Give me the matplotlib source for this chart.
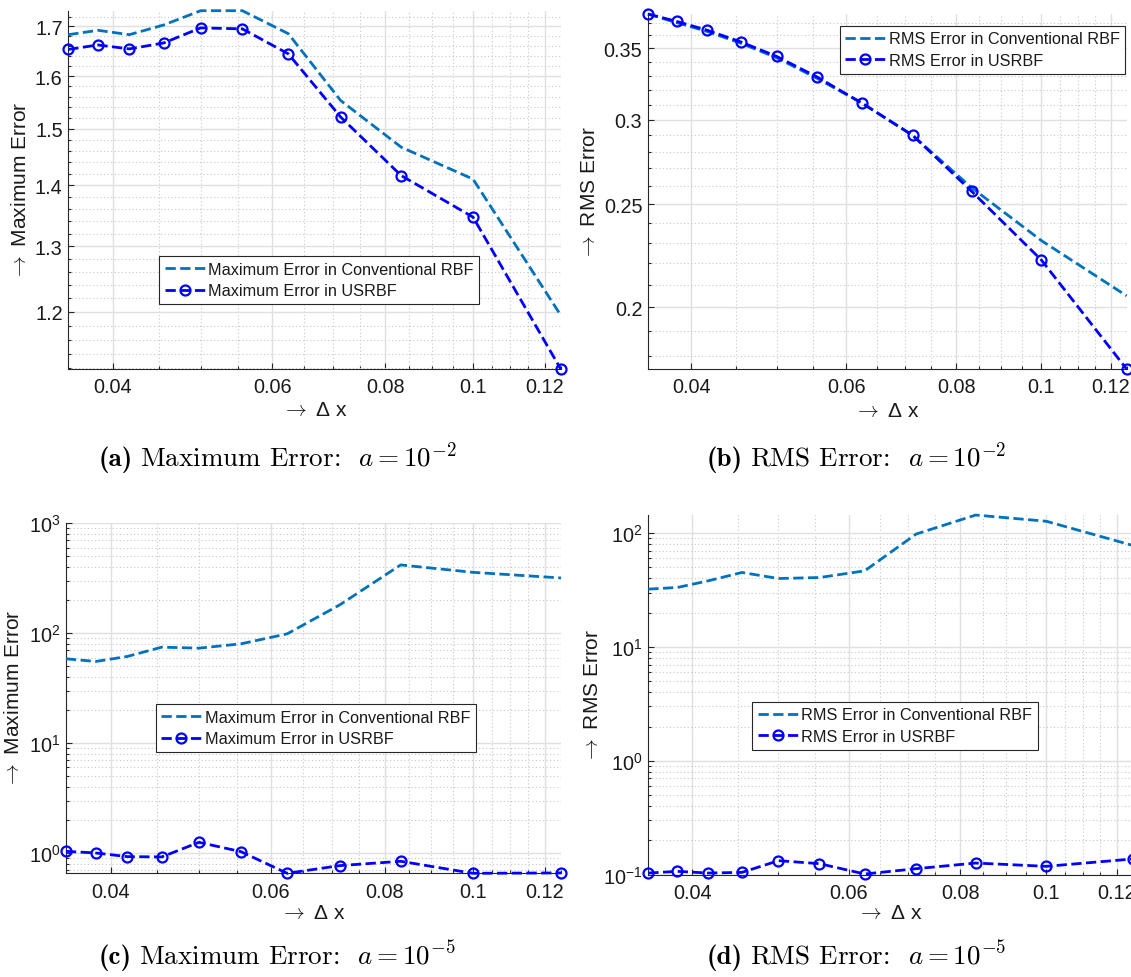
import numpy as np
import matplotlib
matplotlib.use('Agg')
import matplotlib.pyplot as plt
from matplotlib.ticker import (FixedLocator, FixedFormatter, LogLocator,
                               NullFormatter, LogFormatterSciNotation)

plt.rcParams['font.family'] = ['Liberation Sans', 'DejaVu Sans']
plt.rcParams['mathtext.fontset'] = 'cm'

# ---------------- data ----------------
dx = [0.0357, 0.0385, 0.0417, 0.0455, 0.0500, 0.0556, 0.0625, 0.0714, 0.0833, 0.1000, 0.1250]

max_conv_a = [1.683, 1.692, 1.683, 1.703, 1.733, 1.733, 1.685, 1.553, 1.467, 1.411, 1.195]
max_us_a   = [1.653, 1.662, 1.654, 1.666, 1.697, 1.695, 1.644, 1.522, 1.417, 1.347, 1.119]

rms_conv_b = [0.377, 0.370, 0.363, 0.354, 0.343, 0.328, 0.311, 0.290, 0.259, 0.231, 0.205]
rms_us_b   = [0.377, 0.371, 0.364, 0.355, 0.344, 0.329, 0.311, 0.290, 0.257, 0.2215, 0.175]

max_conv_c = [58.5, 55.3, 61.4, 74.6, 73.1, 80.0, 98.6, 181, 418, 358, 318]
max_us_c   = [1.035, 1.0, 0.926, 0.92, 1.25, 1.028, 0.653, 0.767, 0.840, 0.653, 0.658]

rms_conv_d = [32.2, 33.3, 38.1, 45.1, 39.9, 40.7, 46.6, 98, 144, 127, 78]
rms_us_d   = [0.1034, 0.107, 0.1034, 0.1048, 0.1328, 0.125, 0.1014, 0.1129, 0.1266, 0.1184, 0.1374]

xticks = [0.04, 0.06, 0.08, 0.1, 0.12]
xticklabels = ['0.04', '0.06', '0.08', '0.1', '0.12']
yticks_a = [1.2, 1.3, 1.4, 1.5, 1.6, 1.7]
yticklabels_a = ['1.2', '1.3', '1.4', '1.5', '1.6', '1.7']
yticks_b = [0.2, 0.25, 0.3, 0.35]
yticklabels_b = ['0.2', '0.25', '0.3', '0.35']

cap_tags = ['(a)', '(b)', '(c)', '(d)']
cap_texts = [r'Maximum Error:  $a = 10^{-2}$',
             r'RMS Error:  $a = 10^{-2}$',
             r'Maximum Error:  $a = 10^{-5}$',
             r'RMS Error:  $a = 10^{-5}$']

# ---------------- styling ----------------
W, H = 1131, 978
C_CONV = '#0072BD'
C_US = '#0000FF'
AX_COL = '#262626'
TXT = '#1a1a1a'

fig = plt.figure(figsize=(W / 100, H / 100), dpi=100)


def px_axes(l, r, t, b):
    return fig.add_axes([l / W, 1 - b / H, (r - l) / W, (b - t) / H])


def style(ax, xlab_y, ylab_x):
    ax.set_xscale('log')
    ax.set_yscale('log')
    for s in ['top', 'right']:
        ax.spines[s].set_visible(False)
    for s in ['left', 'bottom']:
        ax.spines[s].set_color(AX_COL)
        ax.spines[s].set_linewidth(0.8)
    ax.xaxis.set_major_locator(FixedLocator(xticks))
    ax.xaxis.set_major_formatter(FixedFormatter(xticklabels))
    ax.xaxis.set_minor_locator(FixedLocator(np.round(np.arange(0.035, 0.1251, 0.005), 3)))
    ax.xaxis.set_minor_formatter(NullFormatter())
    ax.tick_params(which='both', direction='in', color=AX_COL, labelcolor=TXT,
                   labelsize=14.3, width=0.8)
    ax.tick_params(which='major', length=4.5)
    ax.tick_params(which='minor', length=2.3)
    ax.tick_params(axis='x', which='both', pad=6)
    ax.tick_params(axis='y', which='both', pad=4)
    ax.set_axisbelow(True)
    ax.grid(True, which='major', color='#e0e0e0', lw=1.0, ls='-')
    ax.grid(True, which='minor', color='#c8c8c8', lw=0.8, ls=(0, (1, 2.2)))
    ax.set_xlim(dx[0], dx[-1])
    ax.xaxis.set_label_coords(0.5, xlab_y)
    ax.xaxis.label.set_va('center')
    ax.yaxis.set_label_coords(ylab_x, 0.5)
    ax.yaxis.label.set_va('center')


def draw(ax, conv, us, lab_conv, lab_us, leg_xy):
    ax.plot(dx, conv, ls='--', color=C_CONV, lw=2.0, label=lab_conv, clip_on=False, zorder=3)
    ax.plot(dx, us, ls='--', color=C_US, lw=2.0, marker='o', ms=7.2, mew=1.6,
            mfc='none', mec=C_US, label=lab_us, clip_on=False, zorder=4)
    leg = ax.legend(loc='upper left', bbox_to_anchor=(leg_xy[0] / W, 1 - leg_xy[1] / H),
                    bbox_transform=fig.transFigure, fontsize=11.7, frameon=True,
                    fancybox=False, edgecolor=AX_COL, framealpha=1, borderpad=0.35,
                    handlelength=2.47, handletextpad=0.2, labelspacing=0.4,
                    borderaxespad=0)
    leg.get_frame().set_linewidth(0.8)
    for t in leg.get_texts():
        t.set_color(TXT)


LABEL_FS = 15

# (a)
ax_a = px_axes(68.3, 560.7, 11.7, 370)
style(ax_a, -0.1144, -0.098)
draw(ax_a, max_conv_a, max_us_a, 'Maximum Error in Conventional RBF',
     'Maximum Error in USRBF', (159, 257))
ax_a.set_ylim(1.119, 1.733)
ax_a.yaxis.set_major_locator(FixedLocator(yticks_a))
ax_a.yaxis.set_major_formatter(FixedFormatter(yticklabels_a))
ax_a.yaxis.set_minor_locator(FixedLocator(np.round(np.arange(1.12, 1.74, 0.02), 2)))
ax_a.yaxis.set_minor_formatter(NullFormatter())
ax_a.set_ylabel(r'$\rightarrow$ Maximum Error', fontsize=LABEL_FS, color=TXT)
ax_a.set_xlabel(r'$\rightarrow$ Δ x', fontsize=LABEL_FS, color=TXT)

# (b)
ax_b = px_axes(647.9, 1126.6, 15, 370)
style(ax_b, -0.1155, -0.122)
draw(ax_b, rms_conv_b, rms_us_b, 'RMS Error in Conventional RBF',
     'RMS Error in USRBF', (839.5, 26.7))
ax_b.set_ylim(0.175, 0.377)
ax_b.yaxis.set_major_locator(FixedLocator(yticks_b))
ax_b.yaxis.set_major_formatter(FixedFormatter(yticklabels_b))
ax_b.yaxis.set_minor_locator(FixedLocator(np.round(np.arange(0.18, 0.38, 0.01), 2)))
ax_b.yaxis.set_minor_formatter(NullFormatter())
ax_b.set_ylabel(r'$\rightarrow$ RMS Error', fontsize=LABEL_FS, color=TXT)
ax_b.set_xlabel(r'$\rightarrow$ Δ x', fontsize=LABEL_FS, color=TXT)

# (c)
ax_c = px_axes(65.9, 561, 524.3, 874.3)
style(ax_c, -0.112, -0.105)
draw(ax_c, max_conv_c, max_us_c, 'Maximum Error in Conventional RBF',
     'Maximum Error in USRBF', (155.6, 705))
ax_c.set_ylim(0.653, 1000)
ax_c.yaxis.set_major_locator(LogLocator(base=10))
ax_c.yaxis.set_major_formatter(LogFormatterSciNotation())
ax_c.yaxis.set_minor_locator(LogLocator(base=10, subs=np.arange(2, 10)))
ax_c.yaxis.set_minor_formatter(NullFormatter())
ax_c.set_ylabel(r'$\rightarrow$ Maximum Error', fontsize=LABEL_FS, color=TXT)
ax_c.set_xlabel(r'$\rightarrow$ Δ x', fontsize=LABEL_FS, color=TXT)

# (d)
ax_d = px_axes(648.3, 1132.5, 515.7, 875.7)
style(ax_d, -0.106, -0.116)
draw(ax_d, rms_conv_d, rms_us_d, 'RMS Error in Conventional RBF',
     'RMS Error in USRBF', (752, 702.7))
ax_d.set_ylim(0.1, 145)
ax_d.yaxis.set_major_locator(LogLocator(base=10))
ax_d.yaxis.set_major_formatter(LogFormatterSciNotation())
ax_d.yaxis.set_minor_locator(LogLocator(base=10, subs=np.arange(2, 10)))
ax_d.yaxis.set_minor_formatter(NullFormatter())
ax_d.set_ylabel(r'$\rightarrow$ RMS Error', fontsize=LABEL_FS, color=TXT)
ax_d.set_xlabel(r'$\rightarrow$ Δ x', fontsize=LABEL_FS, color=TXT)

# captions: bold tag + roman text (Computer Modern)
CAP_FS = 19.5
cap_pos = [(99, 466), (707, 466), (99, 964), (707, 964)]
tag_objs, txt_objs = [], []
for (cx, cy), tag, txt in zip(cap_pos, cap_tags, cap_texts):
    t1 = fig.text(cx / W, 1 - cy / H, tag, family='cmb10', fontsize=CAP_FS,
                  ha='left', va='baseline', color='black')
    t2 = fig.text(cx / W, 1 - cy / H, txt, family='cmr10', fontsize=CAP_FS,
                  ha='left', va='baseline', color='black')
    tag_objs.append(t1)
    txt_objs.append(t2)

fig.canvas.draw()
renderer = fig.canvas.get_renderer()
for t1, t2 in zip(tag_objs, txt_objs):
    bb = t1.get_window_extent(renderer)
    t2.set_x((bb.x1 + 7) / W)

fig.savefig('out.png', dpi=100)
